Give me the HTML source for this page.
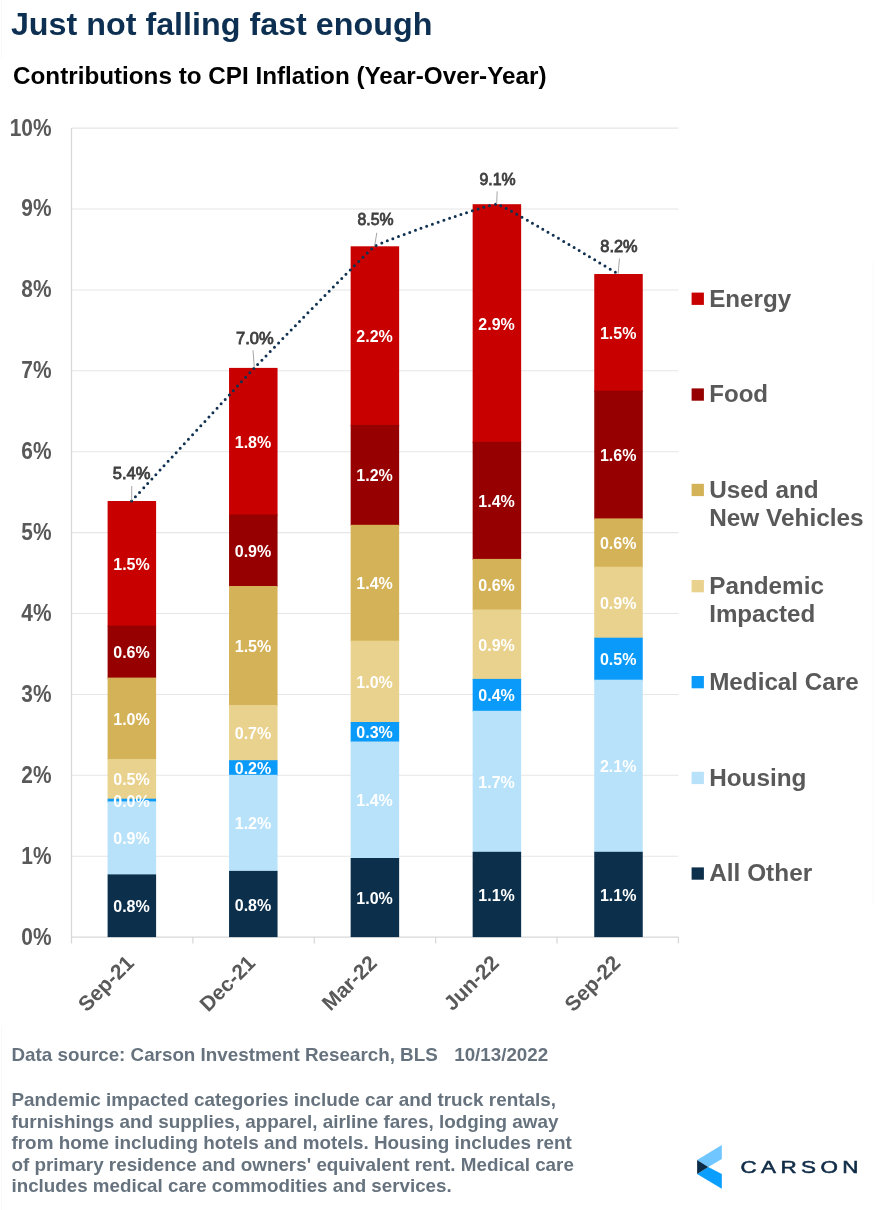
<!DOCTYPE html>
<html lang="en">
<head>
<meta charset="utf-8">
<title>Just not falling fast enough</title>
<style>
html,body{margin:0;padding:0;background:#fff;}
body{width:875px;height:1210px;overflow:hidden;}
svg{display:block;}
text{font-family:"Liberation Sans", Arial, Helvetica, sans-serif;font-weight:bold;}
.ax{fill:#595959;font-size:20.9px;}
.dl{fill:#fff;font-size:16px;text-anchor:middle;}
.tl{fill:#404040;font-size:15.8px;font-weight:normal;stroke:#404040;stroke-width:0.8px;}
.lg{fill:#595959;font-size:23.3px;}
.ft{fill:#66737E;font-size:18.4px;}
</style>
</head>
<body>
<svg width="875" height="1210" viewBox="0 0 875 1210">
<rect x="0" y="0" width="875" height="1210" fill="#ffffff"/>
<g stroke="#F9F9F9" stroke-width="1"><line x1="1.5" y1="0" x2="1.5" y2="58.5"/><line x1="1.5" y1="1026" x2="1.5" y2="1210"/><line x1="873.2" y1="262" x2="873.2" y2="905"/></g>
<text x="10.9" y="34.8" font-size="31.7" fill="#0D3052" textLength="421.5" lengthAdjust="spacingAndGlyphs">Just not falling fast enough</text>
<text x="13.0" y="83.7" font-size="23.7" fill="#000000" textLength="533.5" lengthAdjust="spacingAndGlyphs">Contributions to CPI Inflation (Year-Over-Year)</text>
<g stroke="#E6E6E6" stroke-width="1.05">
<line x1="71.5" y1="856.2" x2="678.4" y2="856.2"/>
<line x1="71.5" y1="775.3" x2="678.4" y2="775.3"/>
<line x1="71.5" y1="694.4" x2="678.4" y2="694.4"/>
<line x1="71.5" y1="613.5" x2="678.4" y2="613.5"/>
<line x1="71.5" y1="532.6" x2="678.4" y2="532.6"/>
<line x1="71.5" y1="451.7" x2="678.4" y2="451.7"/>
<line x1="71.5" y1="370.8" x2="678.4" y2="370.8"/>
<line x1="71.5" y1="289.9" x2="678.4" y2="289.9"/>
<line x1="71.5" y1="209.0" x2="678.4" y2="209.0"/>
<line x1="71.5" y1="128.1" x2="678.4" y2="128.1"/>
</g>
<g stroke="#D8D8D8" stroke-width="1.25" fill="none">
<line x1="71.5" y1="128.1" x2="71.5" y2="943.4"/>
<line x1="71.5" y1="937.1" x2="678.4" y2="937.1"/>
<line x1="192.9" y1="937.1" x2="192.9" y2="943.4"/>
<line x1="314.3" y1="937.1" x2="314.3" y2="943.4"/>
<line x1="435.6" y1="937.1" x2="435.6" y2="943.4"/>
<line x1="557.0" y1="937.1" x2="557.0" y2="943.4"/>
<line x1="678.4" y1="937.1" x2="678.4" y2="943.4"/>
</g>
<text class="ax" transform="translate(51.5,944.5) scale(1,1.11)" text-anchor="end">0%</text>
<text class="ax" transform="translate(51.5,863.6) scale(1,1.11)" text-anchor="end">1%</text>
<text class="ax" transform="translate(51.5,782.7) scale(1,1.11)" text-anchor="end">2%</text>
<text class="ax" transform="translate(51.5,701.8) scale(1,1.11)" text-anchor="end">3%</text>
<text class="ax" transform="translate(51.5,620.9) scale(1,1.11)" text-anchor="end">4%</text>
<text class="ax" transform="translate(51.5,540.0) scale(1,1.11)" text-anchor="end">5%</text>
<text class="ax" transform="translate(51.5,459.1) scale(1,1.11)" text-anchor="end">6%</text>
<text class="ax" transform="translate(51.5,378.2) scale(1,1.11)" text-anchor="end">7%</text>
<text class="ax" transform="translate(51.5,297.3) scale(1,1.11)" text-anchor="end">8%</text>
<text class="ax" transform="translate(51.5,216.4) scale(1,1.11)" text-anchor="end">9%</text>
<text class="ax" transform="translate(51.5,135.5) scale(1,1.11)" text-anchor="end">10%</text>
<rect x="107.60" y="501.0" width="48.5" height="125.6" fill="#C80000"/>
<rect x="107.60" y="625.6" width="48.5" height="53.0" fill="#960000"/>
<rect x="107.60" y="677.6" width="48.5" height="82.4" fill="#D4B257"/>
<rect x="107.60" y="759.0" width="48.5" height="40.7" fill="#E9D28D"/>
<rect x="107.60" y="798.7" width="48.5" height="3.7" fill="#0A9BFA"/>
<rect x="107.60" y="801.4" width="48.5" height="74.0" fill="#B8E2FA"/>
<rect x="107.60" y="874.4" width="48.5" height="62.7" fill="#0C2F4B"/>
<rect x="229.05" y="367.9" width="48.5" height="147.6" fill="#C80000"/>
<rect x="229.05" y="514.5" width="48.5" height="72.5" fill="#960000"/>
<rect x="229.05" y="586.0" width="48.5" height="120.0" fill="#D4B257"/>
<rect x="229.05" y="705.0" width="48.5" height="56.2" fill="#E9D28D"/>
<rect x="229.05" y="760.2" width="48.5" height="15.6" fill="#0A9BFA"/>
<rect x="229.05" y="774.8" width="48.5" height="97.1" fill="#B8E2FA"/>
<rect x="229.05" y="870.9" width="48.5" height="66.2" fill="#0C2F4B"/>
<rect x="350.65" y="246.3" width="48.5" height="179.6" fill="#C80000"/>
<rect x="350.65" y="424.9" width="48.5" height="100.9" fill="#960000"/>
<rect x="350.65" y="524.8" width="48.5" height="116.9" fill="#D4B257"/>
<rect x="350.65" y="640.7" width="48.5" height="82.3" fill="#E9D28D"/>
<rect x="350.65" y="722.0" width="48.5" height="20.5" fill="#0A9BFA"/>
<rect x="350.65" y="741.5" width="48.5" height="117.5" fill="#B8E2FA"/>
<rect x="350.65" y="858.0" width="48.5" height="79.1" fill="#0C2F4B"/>
<rect x="472.65" y="204.2" width="48.5" height="238.6" fill="#C80000"/>
<rect x="472.65" y="441.8" width="48.5" height="118.1" fill="#960000"/>
<rect x="472.65" y="558.9" width="48.5" height="51.6" fill="#D4B257"/>
<rect x="472.65" y="609.5" width="48.5" height="70.4" fill="#E9D28D"/>
<rect x="472.65" y="678.9" width="48.5" height="32.9" fill="#0A9BFA"/>
<rect x="472.65" y="710.8" width="48.5" height="142.0" fill="#B8E2FA"/>
<rect x="472.65" y="851.8" width="48.5" height="85.3" fill="#0C2F4B"/>
<rect x="594.25" y="274.0" width="48.5" height="117.7" fill="#C80000"/>
<rect x="594.25" y="390.7" width="48.5" height="128.7" fill="#960000"/>
<rect x="594.25" y="518.4" width="48.5" height="49.3" fill="#D4B257"/>
<rect x="594.25" y="566.7" width="48.5" height="72.0" fill="#E9D28D"/>
<rect x="594.25" y="637.7" width="48.5" height="43.0" fill="#0A9BFA"/>
<rect x="594.25" y="679.7" width="48.5" height="173.1" fill="#B8E2FA"/>
<rect x="594.25" y="851.8" width="48.5" height="85.3" fill="#0C2F4B"/>
<text class="dl" x="131.5" y="912.2">0.8%</text>
<text class="dl" x="131.5" y="844.4">0.9%</text>
<text class="dl" x="131.5" y="806.5">0.0%</text>
<text class="dl" x="131.5" y="785.4">0.5%</text>
<text class="dl" x="131.5" y="724.8">1.0%</text>
<text class="dl" x="131.5" y="658.1">0.6%</text>
<text class="dl" x="131.5" y="569.8">1.5%</text>
<text class="dl" x="253.0" y="910.5">0.8%</text>
<text class="dl" x="253.0" y="829.3">1.2%</text>
<text class="dl" x="253.0" y="774.0">0.2%</text>
<text class="dl" x="253.0" y="739.1">0.7%</text>
<text class="dl" x="253.0" y="652.0">1.5%</text>
<text class="dl" x="253.0" y="556.8">0.9%</text>
<text class="dl" x="253.0" y="447.7">1.8%</text>
<text class="dl" x="374.6" y="904.0">1.0%</text>
<text class="dl" x="374.6" y="806.2">1.4%</text>
<text class="dl" x="374.6" y="738.2">0.3%</text>
<text class="dl" x="374.6" y="687.9">1.0%</text>
<text class="dl" x="374.6" y="589.2">1.4%</text>
<text class="dl" x="374.6" y="481.3">1.2%</text>
<text class="dl" x="374.6" y="342.1">2.2%</text>
<text class="dl" x="496.6" y="901.0">1.1%</text>
<text class="dl" x="496.6" y="787.8">1.7%</text>
<text class="dl" x="496.6" y="701.3">0.4%</text>
<text class="dl" x="496.6" y="650.7">0.9%</text>
<text class="dl" x="496.6" y="590.7">0.6%</text>
<text class="dl" x="496.6" y="506.9">1.4%</text>
<text class="dl" x="496.6" y="329.5">2.9%</text>
<text class="dl" x="618.2" y="901.0">1.1%</text>
<text class="dl" x="618.2" y="772.2">2.1%</text>
<text class="dl" x="618.2" y="665.2">0.5%</text>
<text class="dl" x="618.2" y="608.7">0.9%</text>
<text class="dl" x="618.2" y="549.0">0.6%</text>
<text class="dl" x="618.2" y="461.0">1.6%</text>
<text class="dl" x="618.2" y="338.9">1.5%</text>
<path d="M131.6,501.0 C135.3,497.0 247.1,375.5 254.4,367.9 C261.7,360.3 367.4,251.2 374.7,246.3 C382.0,241.4 489.5,203.4 496.8,204.2 C504.1,205.0 614.7,271.9 618.3,274.0" fill="none" stroke="#0F3050" stroke-width="3" stroke-linecap="round" stroke-dasharray="0 6"/>
<g stroke="#A6A6A6" stroke-width="1">
<line x1="131.7" y1="486.0" x2="131.7" y2="500.5"/>
<line x1="253.0" y1="350.3" x2="254.3" y2="367.5"/>
<line x1="376.8" y1="232.8" x2="374.6" y2="246.0"/>
<line x1="497.2" y1="191.4" x2="496.6" y2="204.0"/>
<line x1="619.5" y1="258.5" x2="618.1" y2="273.8"/>
</g>
<text class="tl" x="112.8" y="479.0" textLength="37.7" lengthAdjust="spacingAndGlyphs">5.4%</text>
<text class="tl" x="236.0" y="343.7" textLength="37.7" lengthAdjust="spacingAndGlyphs">7.0%</text>
<text class="tl" x="357.5" y="225.1" textLength="36.1" lengthAdjust="spacingAndGlyphs">8.5%</text>
<text class="tl" x="479.5" y="184.5" textLength="36.2" lengthAdjust="spacingAndGlyphs">9.1%</text>
<text class="tl" x="600.3" y="251.5" textLength="37.3" lengthAdjust="spacingAndGlyphs">8.2%</text>
<text class="ax" font-size="21.4" transform="translate(135.2,964.2) rotate(-45)" text-anchor="end">Sep-21</text>
<text class="ax" font-size="21.4" transform="translate(256.6,964.2) rotate(-45)" text-anchor="end">Dec-21</text>
<text class="ax" font-size="21.4" transform="translate(378.2,964.2) rotate(-45)" text-anchor="end">Mar-22</text>
<text class="ax" font-size="21.4" transform="translate(500.2,964.2) rotate(-45)" text-anchor="end">Jun-22</text>
<text class="ax" font-size="21.4" transform="translate(621.8,964.2) rotate(-45)" text-anchor="end">Sep-22</text>
<rect x="691.6" y="292.6" width="12.3" height="12.3" fill="#C80000"/>
<text class="lg" x="709.2" y="306.6" textLength="82.0" lengthAdjust="spacingAndGlyphs">Energy</text>
<rect x="691.6" y="388.4" width="12.3" height="12.3" fill="#960000"/>
<text class="lg" x="709.2" y="402.4" textLength="58.9" lengthAdjust="spacingAndGlyphs">Food</text>
<rect x="691.6" y="483.8" width="12.3" height="12.3" fill="#D4B257"/>
<text class="lg" x="709.2" y="497.8" textLength="109.5" lengthAdjust="spacingAndGlyphs">Used and</text>
<text class="lg" x="709.2" y="525.6" textLength="154.5" lengthAdjust="spacingAndGlyphs">New Vehicles</text>
<rect x="691.6" y="580.0" width="12.3" height="12.3" fill="#E9D28D"/>
<text class="lg" x="709.2" y="594.0" textLength="114.7" lengthAdjust="spacingAndGlyphs">Pandemic</text>
<text class="lg" x="709.2" y="621.9" textLength="106.0" lengthAdjust="spacingAndGlyphs">Impacted</text>
<rect x="691.6" y="676.0" width="12.3" height="12.3" fill="#0A9BFA"/>
<text class="lg" x="709.2" y="690.0" textLength="149.5" lengthAdjust="spacingAndGlyphs">Medical Care</text>
<rect x="691.6" y="771.8" width="12.3" height="12.3" fill="#B8E2FA"/>
<text class="lg" x="709.2" y="785.8" textLength="97.3" lengthAdjust="spacingAndGlyphs">Housing</text>
<rect x="691.6" y="867.4" width="12.3" height="12.3" fill="#0C2F4B"/>
<text class="lg" x="709.2" y="881.4" textLength="103.0" lengthAdjust="spacingAndGlyphs">All Other</text>
<text class="ft" x="11.5" y="1060.5" textLength="426.2" lengthAdjust="spacingAndGlyphs">Data source: Carson Investment Research, BLS</text>
<text class="ft" x="11.5" y="1106.1" textLength="544.5" lengthAdjust="spacingAndGlyphs">Pandemic impacted categories include car and truck rentals,</text>
<text class="ft" x="11.5" y="1127.7" textLength="547.0" lengthAdjust="spacingAndGlyphs">furnishings and supplies, apparel, airline fares, lodging away</text>
<text class="ft" x="11.5" y="1149.0" textLength="560.4000000000001" lengthAdjust="spacingAndGlyphs">from home including hotels and motels. Housing includes rent</text>
<text class="ft" x="11.5" y="1170.6" textLength="562.4000000000001" lengthAdjust="spacingAndGlyphs">of primary residence and owners' equivalent rent. Medical care</text>
<text class="ft" x="11.5" y="1191.8" textLength="440.2" lengthAdjust="spacingAndGlyphs">includes medical care commodities and services.</text>
<text class="ft" x="454.2" y="1060.5" textLength="94" lengthAdjust="spacingAndGlyphs">10/13/2022</text>
<g>
<polygon points="721.8,1145 721.8,1159 708.3,1166.9 697.1,1159.9" fill="#70C6FF"/>
<polygon points="697.1,1174.1 708.3,1166.9 721.8,1174.1 721.8,1188.7" fill="#0A9FFF"/>
<polygon points="697.1,1159.9 708.3,1166.9 697.1,1174.1" fill="#0B2D48"/>
<text transform="translate(740.4,1172.6) scale(1.42,1)" font-size="15.8" style="font-weight:normal" fill="#0F2B46" stroke="#0F2B46" stroke-width="0.5" textLength="83.2" lengthAdjust="spacing">CARSON</text>
</g>
</svg>
</body>
</html>
